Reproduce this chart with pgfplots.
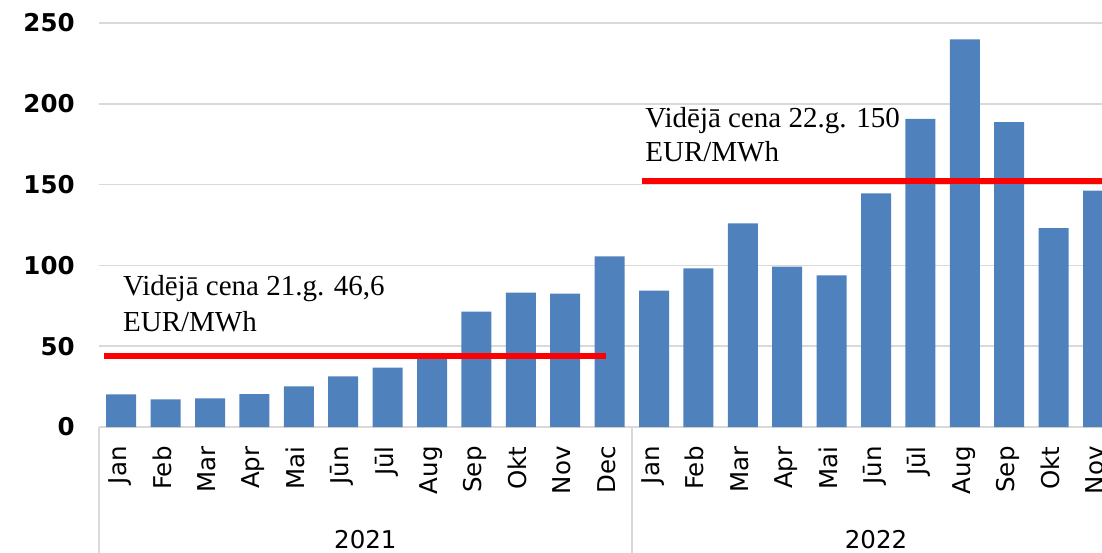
\documentclass[border=0pt]{standalone}
\usepackage{pgfplots}
\pgfplotsset{compat=1.18}
\usepackage{fontspec}
\setmainfont{DejaVu Sans}
\newfontfamily\serif{Liberation Serif}
\definecolor{barblue}{HTML}{4F81BD}
\definecolor{gridgray}{HTML}{D9D9D9}
\begin{document}
\begin{tikzpicture}
\begin{axis}[
  scale only axis,
  width=501.5pt, height=202pt,
  xmin=-0.5, xmax=22.09,
  ymin=0, ymax=250,
  ytick={0,50,100,150,200,250},
  xtick={0,1,...,22},
  xticklabels={Jan,Feb,Mar,Apr,Mai,Jūn,Jūl,Aug,Sep,Okt,Nov,Dec,Jan,Feb,Mar,Apr,Mai,Jūn,Jūl,Aug,Sep,Okt,Nov},
  axis line style={draw=none},
  xtick style={draw=none}, ytick style={draw=none},
  ymajorgrids, grid style={gridgray, line width=0.75pt},
  /pgf/number format/assume math mode=true,
  yticklabel style={font=\bfseries\fontsize{12.25}{14}\selectfont, anchor=east, inner sep=0pt},
  yticklabel shift=12pt,
  xticklabel style={font=\fontsize{12.25}{14}\selectfont, rotate=90, anchor=mid east, inner sep=0pt},
  xticklabel shift=9.5pt,
]
\addplot[ybar, bar width=15pt, fill=barblue, draw=none] coordinates {
  (0,20.2) (1,17.1) (2,17.7) (3,20.4) (4,25.2) (5,31.4) (6,36.7) (7,44.0) (8,71.4) (9,83.2) (10,82.5) (11,105.6)
  (12,84.4) (13,98.2) (14,126.0) (15,99.2) (16,93.8) (17,144.6) (18,190.6) (19,239.9) (20,188.7) (21,123.1) (22,146.2)
};
\addplot[sharp plot, red, line width=2.8pt, mark=none] coordinates {(-0.387,44.1) (10.91,44.1)};
\addplot[sharp plot, red, line width=2.8pt, mark=none] coordinates {(11.74,152.2) (23,152.2)};
\coordinate (A1) at (axis cs:0.034,81.3);
\coordinate (A2) at (axis cs:0.034,59.0);
\coordinate (B1) at (axis cs:11.797,185.5);
\coordinate (B2) at (axis cs:11.797,164.2);
\coordinate (Y1) at (axis cs:5.5,0);
\coordinate (Y2) at (axis cs:17,0);
\coordinate (S0) at (axis cs:-0.5,0);
\coordinate (S1) at (axis cs:11.5,0);
\coordinate (BL) at (rel axis cs:0,0);
\coordinate (TR) at (rel axis cs:1,1);
\end{axis}
\node[anchor=base west, inner sep=0pt, font=\serif\fontsize{14.5}{17}\selectfont] at (A1) {Vidējā cena 21.g. 46,6};
\node[anchor=base west, inner sep=0pt, font=\serif\fontsize{14.5}{17}\selectfont] at (A2) {EUR/MWh};
\node[anchor=base west, inner sep=0pt, font=\serif\fontsize{14.5}{17}\selectfont] at (B1) {Vidējā cena 22.g. 150};
\node[anchor=base west, inner sep=0pt, font=\serif\fontsize{14.5}{17}\selectfont] at (B2) {EUR/MWh};
\draw[gridgray, line width=0.75pt] (S0) -- ++(0,-70pt);
\draw[gridgray, line width=0.75pt] (S1) -- ++(0,-70pt);
\node[anchor=base, inner sep=0pt, font=\fontsize{12.25}{14}\selectfont] at ([yshift=-60.5pt]Y1) {2021};
\node[anchor=base, inner sep=0pt, font=\fontsize{12.25}{14}\selectfont] at ([yshift=-60.5pt]Y2) {2022};
\pgfresetboundingbox
\path[use as bounding box] ([shift={(-49.5pt,-62.5pt)}]BL) rectangle ([shift={(0pt,11.5pt)}]TR);
\end{tikzpicture}
\end{document}
